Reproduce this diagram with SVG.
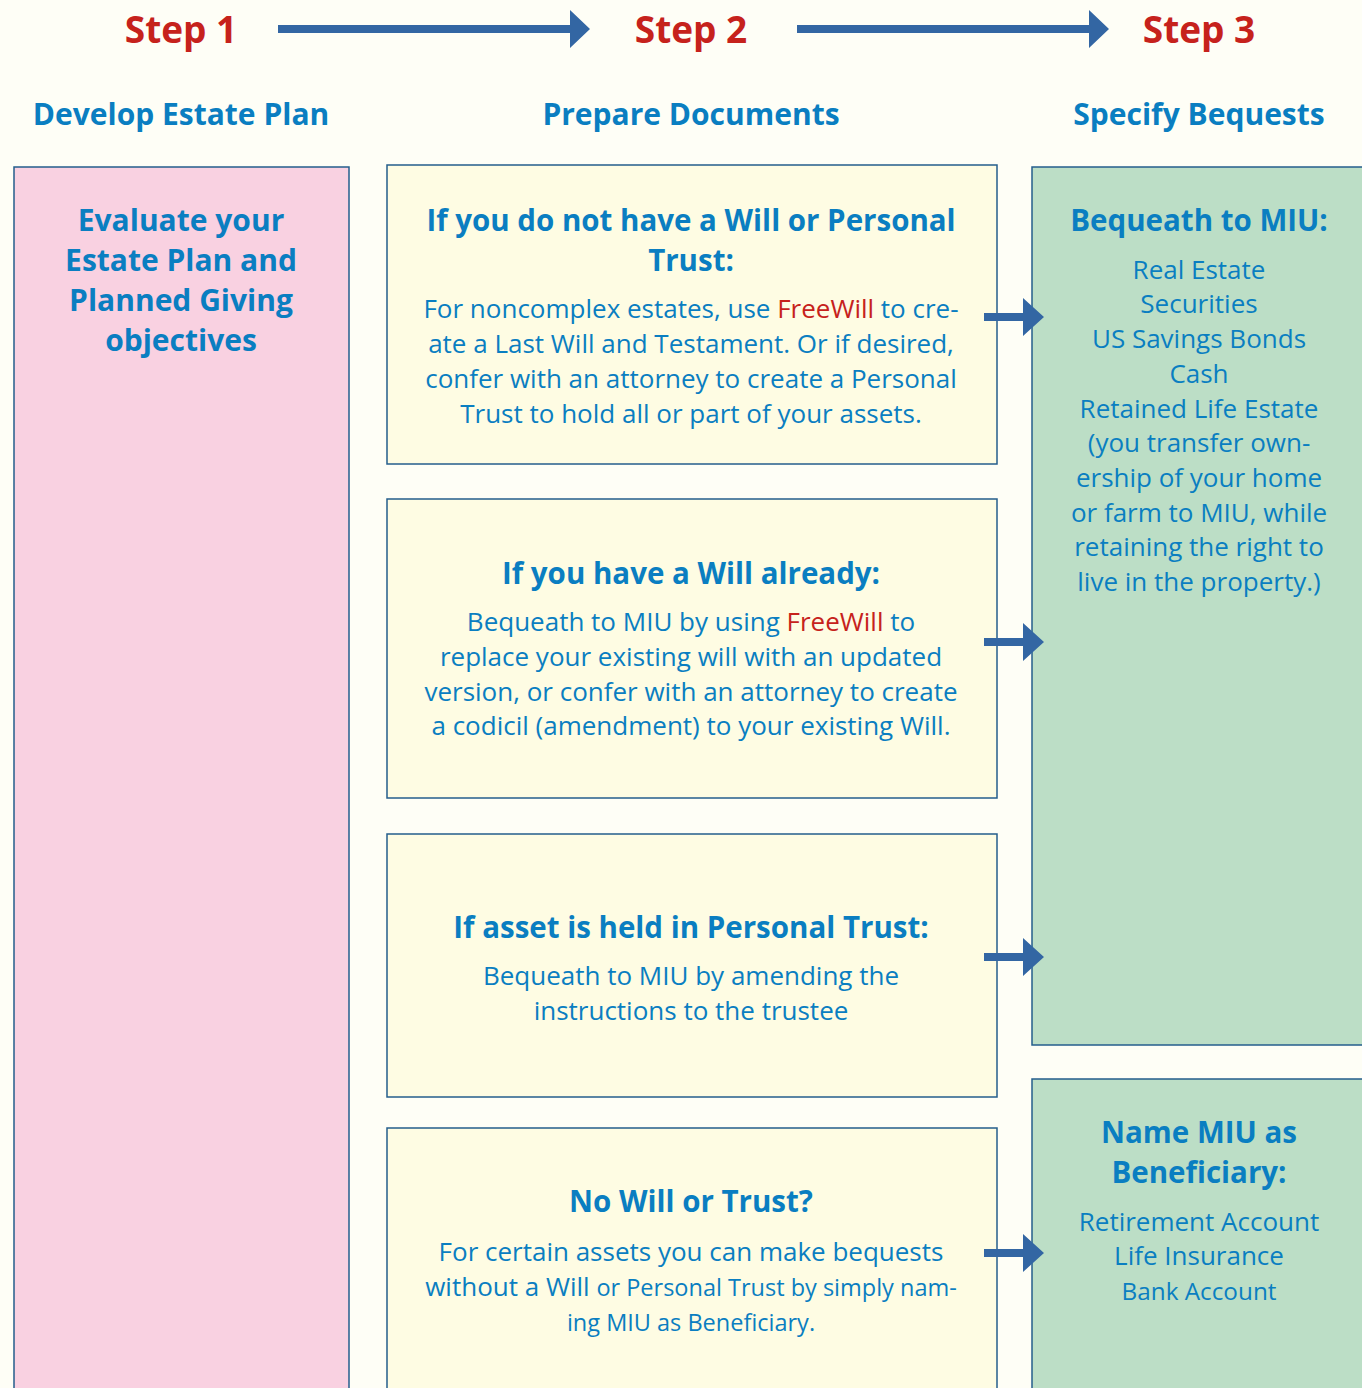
<svg xmlns="http://www.w3.org/2000/svg" width="1362" height="1388" viewBox="0 0 1362 1388">
<defs>
<style>
.bg{fill:#FEFEF6}
.box{stroke:#245E8C;stroke-width:1.5}
.pink{fill:#F9D1E1}
.yel{fill:#FEFCE3}
.grn{fill:#BCDEC6}
.step{font-family:"Open Sans","Liberation Sans",sans-serif;font-weight:700;font-size:37px;fill:#C6221C;text-anchor:middle}
.sub{font-family:"Open Sans","Liberation Sans",sans-serif;font-weight:700;font-size:30px;fill:#0A7EC1;text-anchor:middle}
.ttl{font-family:"Open Sans","Liberation Sans",sans-serif;font-weight:700;font-size:29.5px;fill:#0A7EC1;text-anchor:middle}
.body{font-family:"Open Sans","Liberation Sans",sans-serif;font-size:26px;fill:#0A7EC1;text-anchor:middle}
.sm{font-size:23.5px}
.red{fill:#C6221C}
.arr{fill:#3366A3}
</style>
</defs>
<rect class="bg" x="0" y="0" width="1362" height="1388"/>

<g id="headers">
<text class="step" x="181" y="43">Step 1</text>
<text class="step" x="691" y="43">Step 2</text>
<text class="step" x="1199" y="43">Step 3</text>
<text class="sub" x="181" y="125">Develop Estate Plan</text>
<text class="sub" x="691" y="125">Prepare Documents</text>
<text class="sub" x="1199" y="125">Specify Bequests</text>
</g>

<g id="step1-evaluate">
<rect class="box pink" x="14" y="167" width="335" height="1240"/>
<text class="sub" x="181" y="231">Evaluate your</text>
<text class="sub" x="181" y="271">Estate Plan and</text>
<text class="sub" x="181" y="311">Planned Giving</text>
<text class="sub" x="181" y="351">objectives</text>
</g>

<g id="step2-no-will">
<rect class="box yel" x="387" y="165" width="610" height="299"/>
<text class="ttl" x="691" y="231">If you do not have a Will or Personal</text>
<text class="ttl" x="691" y="271">Trust:</text>
<text class="body" x="691" y="318">For noncomplex estates, use <tspan class="red">FreeWill</tspan> to cre-</text>
<text class="body" x="691" y="353">ate a Last Will and Testament. Or if desired,</text>
<text class="body" x="691" y="388">confer with an attorney to create a Personal</text>
<text class="body" x="691" y="423">Trust to hold all or part of your assets.</text>
</g>

<g id="step2-have-will">
<rect class="box yel" x="387" y="499" width="610" height="299"/>
<text class="ttl" x="691" y="584">If you have a Will already:</text>
<text class="body" x="691" y="631">Bequeath to MIU by using <tspan class="red">FreeWill</tspan> to</text>
<text class="body" x="691" y="666">replace your existing will with an updated</text>
<text class="body" x="691" y="701">version, or confer with an attorney to create</text>
<text class="body" x="691" y="735">a codicil (amendment) to your existing Will.</text>
</g>

<g id="step2-trust">
<rect class="box yel" x="387" y="834" width="610" height="263"/>
<text class="ttl" x="691" y="938">If asset is held in Personal Trust:</text>
<text class="body" x="691" y="985">Bequeath to MIU by amending the</text>
<text class="body" x="691" y="1020">instructions to the trustee</text>
</g>

<g id="step2-no-will-or-trust">
<rect class="box yel" x="387" y="1128" width="610" height="280"/>
<text class="ttl" x="691" y="1212">No Will or Trust?</text>
<text class="body" x="691" y="1261">For certain assets you can make bequests</text>
<text class="body" x="691" y="1296">without a Will <tspan class="sm">or Personal Trust by simply nam-</tspan></text>
<text class="body sm" x="691" y="1331">ing MIU as Beneficiary.</text>
</g>

<g id="step3-bequeath">
<rect class="box grn" x="1032" y="167" width="340" height="878"/>
<text class="ttl" x="1199" y="231">Bequeath to MIU:</text>
<text class="body" x="1199" y="279">Real Estate</text>
<text class="body" x="1199" y="313">Securities</text>
<text class="body" x="1199" y="348">US Savings Bonds</text>
<text class="body" x="1199" y="383">Cash</text>
<text class="body" x="1199" y="418">Retained Life Estate</text>
<text class="body" x="1199" y="452">(you transfer own-</text>
<text class="body" x="1199" y="487">ership of your home</text>
<text class="body" x="1199" y="522">or farm to MIU, while</text>
<text class="body" x="1199" y="556">retaining the right to</text>
<text class="body" x="1199" y="591">live in the property.)</text>
</g>

<g id="step3-beneficiary">
<rect class="box grn" x="1032" y="1079" width="340" height="330"/>
<text class="ttl" x="1199" y="1143">Name MIU as</text>
<text class="ttl" x="1199" y="1183">Beneficiary:</text>
<text class="body" x="1199" y="1231">Retirement Account</text>
<text class="body" x="1199" y="1265">Life Insurance</text>
<text class="body" x="1199" y="1300" style="font-size:24.3px">Bank Account</text>
</g>

<g id="connectors">
<path class="arr" d="M278,25 H570 V10 L590,29 L570,48 V33 H278 Z"/>
<path class="arr" d="M797,25 H1089 V10 L1109,29 L1089,48 V33 H797 Z"/>
<path class="arr" d="M984,313 H1023 V298 L1044,317 L1023,336 V321 H984 Z"/>
<path class="arr" d="M984,638 H1023 V623 L1044,642 L1023,661 V646 H984 Z"/>
<path class="arr" d="M984,953 H1023 V938 L1044,957 L1023,976 V961 H984 Z"/>
<path class="arr" d="M984,1249 H1023 V1234 L1044,1253 L1023,1272 V1257 H984 Z"/>
</g>
</svg>
